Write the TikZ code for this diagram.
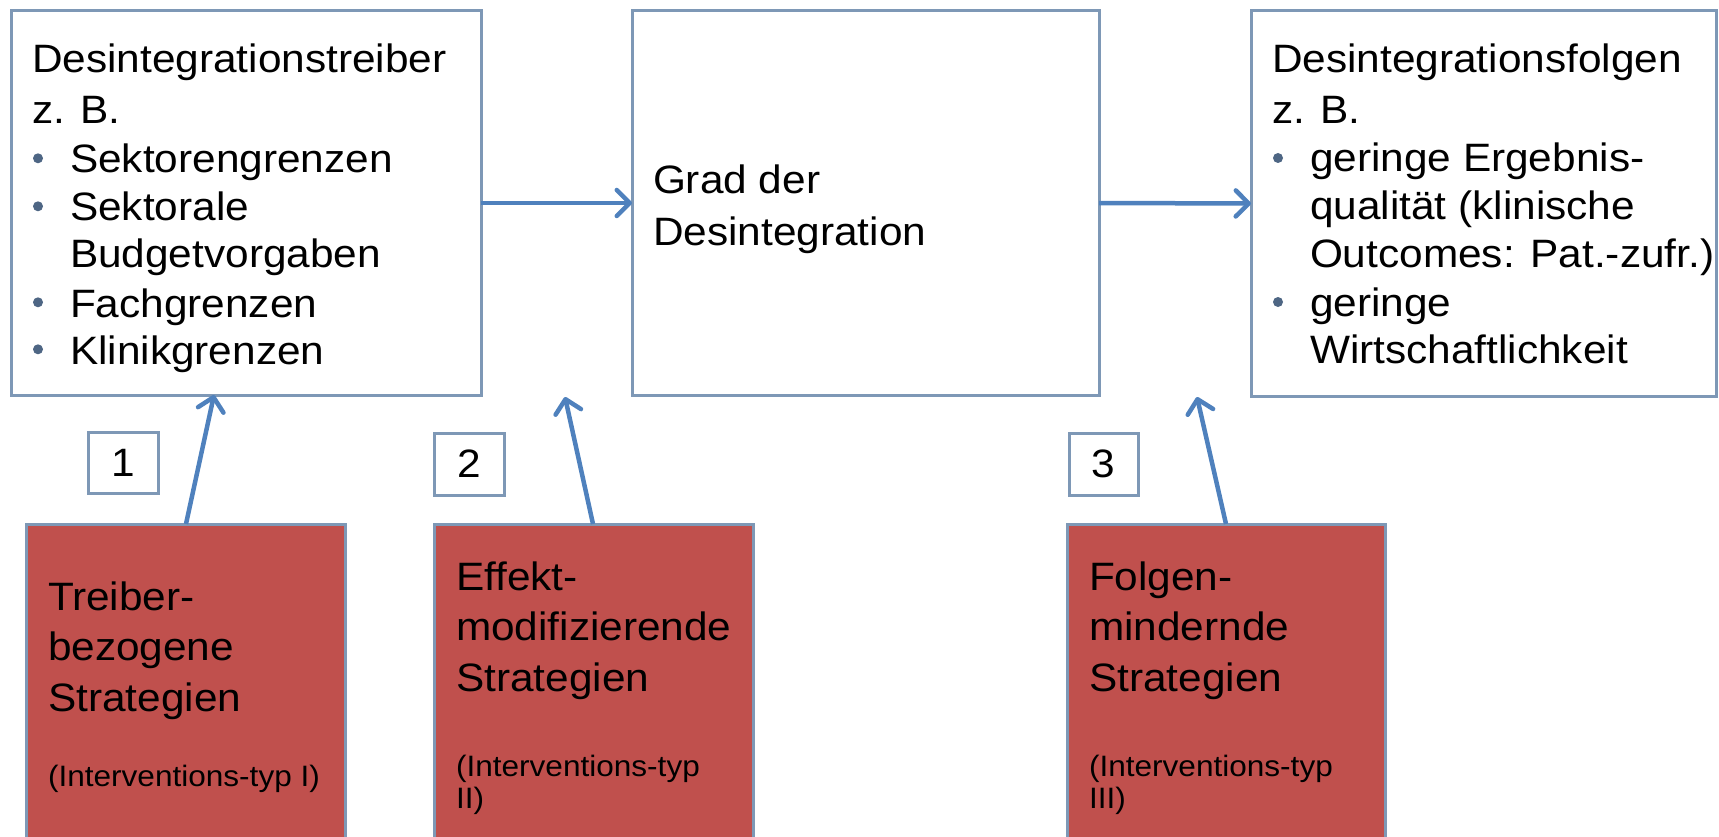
\documentclass[tikz,border=0pt]{standalone}
\usepackage{fontspec}
\setmainfont{Liberation Sans}[FakeStretch=1.07]
\usetikzlibrary{arrows.meta}
\definecolor{boxline}{RGB}{126,152,182}
\definecolor{arrowblue}{RGB}{79,129,189}
\definecolor{stratred}{RGB}{192,80,77}
\definecolor{bulletc}{RGB}{78,102,132}
\newcommand\bigtxt{\fontsize{39.6}{47}\selectfont}
\newcommand\smalltxt{\fontsize{29.5}{35}\selectfont}
\tikzset{
  whitebox/.style={draw=boxline, line width=3pt, fill=white, rectangle, inner sep=0pt, outer sep=0pt},
  redbox/.style={draw=boxline, line width=3pt, fill=stratred, rectangle, inner sep=0pt, outer sep=0pt},
  numbox/.style={draw=boxline, line width=3pt, fill=white, rectangle, inner sep=0pt, outer sep=0pt, font=\bigtxt, text=black},
  txt/.style={inner sep=0pt, outer sep=0pt, anchor=base west, font=\bigtxt, text=black},
  smalltx/.style={inner sep=0pt, outer sep=0pt, anchor=base west, font=\smalltxt, text=black},
  arr/.style={draw=arrowblue, line width=4.5pt, -{Straight Barb[length=13pt,width=26pt,round]}},
  bul/.style={fill=bulletc}
}
\begin{document}
\begin{tikzpicture}[x=1pt,y=-1pt]
\useasboundingbox (0,0) rectangle (1719,837);
% main boxes
\node[whitebox, anchor=north west, minimum width=470pt, minimum height=384pt] (b1) at (11,11) {};
\node[whitebox, anchor=north west, minimum width=467pt, minimum height=384pt] (b2) at (632,11) {};
\node[whitebox, anchor=north west, minimum width=465pt, minimum height=385pt] (b3) at (1251,11) {};
% number boxes
\node[numbox, minimum width=70pt, minimum height=61pt] (n1) at (123,462.5) {1};
\node[numbox, minimum width=70pt, minimum height=62pt] (n2) at (469,464) {2};
\node[numbox, minimum width=69pt, minimum height=62pt] (n3) at (1103.5,464) {3};
% red strategy boxes
\node[redbox, anchor=north west, minimum width=319pt, minimum height=340pt] (r1) at (26,524) {};
\node[redbox, anchor=north west, minimum width=319pt, minimum height=340pt] (r2) at (434,524) {};
\node[redbox, anchor=north west, minimum width=318pt, minimum height=340pt] (r3) at (1067,524) {};
% box 1 text
\node[txt] (t1a) at (32,73) {Desintegrationstreiber};
\node[txt] (t1b) at (32,124) {z. B.};
\node[txt] (t1c) at (70,173) {Sektorengrenzen};
\node[txt] (t1d) at (70,221) {Sektorale};
\node[txt] (t1e) at (70,268) {Budgetvorgaben};
\node[txt] (t1f) at (70,317) {Fachgrenzen};
\node[txt] (t1g) at (70,364) {Klinikgrenzen};
\fill[bul] (38,158.3) circle (5pt);
\fill[bul] (38,206.3) circle (5pt);
\fill[bul] (38,302.3) circle (5pt);
\fill[bul] (38,349.3) circle (5pt);
% box 2 text
\node[txt] (t2a) at (653,194) {Grad der};
\node[txt] (t2b) at (653,245) {Desintegration};
% box 3 text
\node[txt] (t3a) at (1272,73) {Desintegrationsfolgen};
\node[txt] (t3b) at (1272,124) {z. B.};
\node[txt] (t3c) at (1310,172) {geringe Ergebnis-};
\node[txt] (t3d) at (1310,220) {qualität (klinische};
\node[txt] (t3e) at (1310,268) {Outcomes: Pat.-zufr.)};
\node[txt] (t3f) at (1310,316) {geringe};
\node[txt] (t3g) at (1310,363) {Wirtschaftlichkeit};
\fill[bul] (1278,158) circle (5pt);
\fill[bul] (1278,302) circle (5pt);
% red box 1 text
\node[txt] (s1a) at (48,610) {Treiber-};
\node[txt] (s1b) at (48,660) {bezogene};
\node[txt] (s1c) at (48,711.5) {Strategien};
\node[smalltx] (s1d) at (48,786.5) {(Interventions-typ I)};
% red box 2 text
\node[txt] (s2a) at (456,590) {Effekt-};
\node[txt] (s2b) at (456,640) {modifizierende};
\node[txt] (s2c) at (456,691.5) {Strategien};
\node[smalltx] (s2d) at (456,776.5) {(Interventions-typ};
\node[smalltx] (s2e) at (456,808.5) {II)};
% red box 3 text
\node[txt] (s3a) at (1089,590) {Folgen-};
\node[txt] (s3b) at (1089,640) {mindernde};
\node[txt] (s3c) at (1089,691.5) {Strategien};
\node[smalltx] (s3d) at (1089,776.5) {(Interventions-typ};
\node[smalltx] (s3e) at (1089,808.5) {III)};
% connectors
\coordinate (tip2) at (565,397);
\coordinate (tip3) at (1197,397);
\draw[arr] (b1.east) -- (b2.west);
\draw[arr] (b2.east) -- (b3.west);
\draw[arr] ([xshift=160pt]r1.north west) -- ([xshift=203pt]b1.south west);
\draw[arr] ([xshift=159pt]r2.north west) -- (tip2);
\draw[arr] ([xshift=159pt]r3.north west) -- (tip3);
\end{tikzpicture}
\end{document}
